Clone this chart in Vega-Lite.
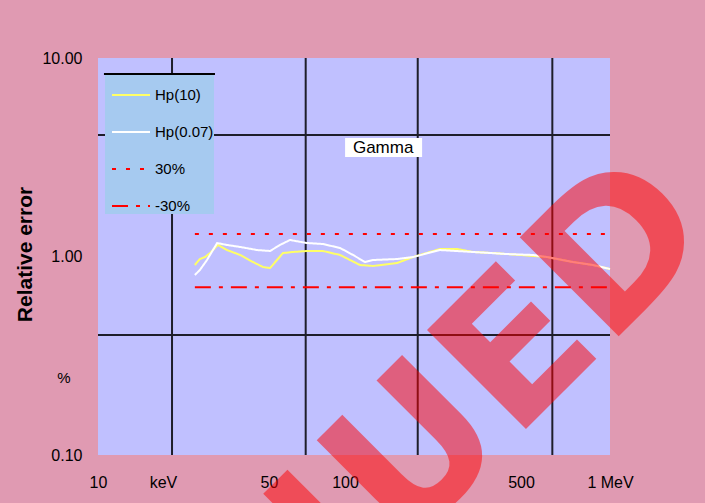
{
  "$schema": "https://vega.github.io/schema/vega-lite/v6.json",
  "width": 512,
  "height": 397,
  "autosize": {"type": "none"},
  "padding": {"left": 98, "top": 58, "right": 95, "bottom": 48},
  "background": "#e09ab2",
  "config": {
    "view": {"fill": "#c0c0ff", "stroke": null},
    "font": "Liberation Sans",
    "axisX": {"labelFontSize": 16, "labelPadding": 19, "labelColor": "#000", "ticks": false, "domain": false, "grid": false, "labelFlush": false, "labelOverlap": false, "labelBound": false},
    "axisY": {"labelFontSize": 16, "labelPadding": 16, "labelColor": "#000", "ticks": false, "domain": false, "grid": false, "titleFontSize": 21, "titleFontWeight": "bold", "titleColor": "#000", "titleX": -67, "titleY": 196, "titleAngle": -90, "titleBaseline": "alphabetic", "titleAlign": "center"}
  },
  "datasets": {
    "curves": [
      {"series": "Hp(10)", "energy": 23.9, "ratio": 0.906},
      {"series": "Hp(10)", "energy": 25.0, "ratio": 0.971},
      {"series": "Hp(10)", "energy": 26.2, "ratio": 0.994},
      {"series": "Hp(10)", "energy": 27.4, "ratio": 1.041},
      {"series": "Hp(10)", "energy": 29.4, "ratio": 1.143},
      {"series": "Hp(10)", "energy": 31.9, "ratio": 1.078},
      {"series": "Hp(10)", "energy": 35.9, "ratio": 1.018},
      {"series": "Hp(10)", "energy": 40.3, "ratio": 0.938},
      {"series": "Hp(10)", "energy": 44.1, "ratio": 0.885},
      {"series": "Hp(10)", "energy": 47.0, "ratio": 0.875},
      {"series": "Hp(10)", "energy": 52.8, "ratio": 1.041},
      {"series": "Hp(10)", "energy": 57.8, "ratio": 1.054},
      {"series": "Hp(10)", "energy": 65.5, "ratio": 1.066},
      {"series": "Hp(10)", "energy": 75.6, "ratio": 1.066},
      {"series": "Hp(10)", "energy": 88.2, "ratio": 1.018},
      {"series": "Hp(10)", "energy": 96.5, "ratio": 0.960},
      {"series": "Hp(10)", "energy": 105.5, "ratio": 0.906},
      {"series": "Hp(10)", "energy": 118.7, "ratio": 0.896},
      {"series": "Hp(10)", "energy": 147.2, "ratio": 0.927},
      {"series": "Hp(10)", "energy": 170.1, "ratio": 0.994},
      {"series": "Hp(10)", "energy": 216.7, "ratio": 1.091},
      {"series": "Hp(10)", "energy": 252.6, "ratio": 1.091},
      {"series": "Hp(10)", "energy": 291.6, "ratio": 1.054},
      {"series": "Hp(10)", "energy": 349.1, "ratio": 1.041},
      {"series": "Hp(10)", "energy": 445, "ratio": 1.018},
      {"series": "Hp(10)", "energy": 567, "ratio": 0.994},
      {"series": "Hp(10)", "energy": 717, "ratio": 0.938},
      {"series": "Hp(10)", "energy": 858, "ratio": 0.906},
      {"series": "Hp(10)", "energy": 1000, "ratio": 0.865},
      {"series": "Hp(0.07)", "energy": 23.9, "ratio": 0.807},
      {"series": "Hp(0.07)", "energy": 25.0, "ratio": 0.855},
      {"series": "Hp(0.07)", "energy": 26.65, "ratio": 0.960},
      {"series": "Hp(0.07)", "energy": 29.2, "ratio": 1.169},
      {"series": "Hp(0.07)", "energy": 31.9, "ratio": 1.143},
      {"series": "Hp(0.07)", "energy": 35.9, "ratio": 1.117},
      {"series": "Hp(0.07)", "energy": 41.8, "ratio": 1.078},
      {"series": "Hp(0.07)", "energy": 47.0, "ratio": 1.066},
      {"series": "Hp(0.07)", "energy": 51.4, "ratio": 1.143},
      {"series": "Hp(0.07)", "energy": 56.2, "ratio": 1.211},
      {"series": "Hp(0.07)", "energy": 65.5, "ratio": 1.169},
      {"series": "Hp(0.07)", "energy": 75.6, "ratio": 1.156},
      {"series": "Hp(0.07)", "energy": 88.2, "ratio": 1.104},
      {"series": "Hp(0.07)", "energy": 99.1, "ratio": 1.018},
      {"series": "Hp(0.07)", "energy": 110.4, "ratio": 0.938},
      {"series": "Hp(0.07)", "energy": 118.7, "ratio": 0.960},
      {"series": "Hp(0.07)", "energy": 147.2, "ratio": 0.971},
      {"series": "Hp(0.07)", "energy": 170.1, "ratio": 0.994},
      {"series": "Hp(0.07)", "energy": 216.7, "ratio": 1.078},
      {"series": "Hp(0.07)", "energy": 291.6, "ratio": 1.054},
      {"series": "Hp(0.07)", "energy": 396, "ratio": 1.029},
      {"series": "Hp(0.07)", "energy": 500, "ratio": 1.018},
      {"series": "Hp(0.07)", "energy": 567, "ratio": 0.994},
      {"series": "Hp(0.07)", "energy": 717, "ratio": 0.938},
      {"series": "Hp(0.07)", "energy": 858, "ratio": 0.906},
      {"series": "Hp(0.07)", "energy": 1000, "ratio": 0.865},
      {"series": "30%", "energy": 23.9, "ratio": 1.3},
      {"series": "30%", "energy": 1000, "ratio": 1.3},
      {"series": "-30%", "energy": 23.9, "ratio": 0.7},
      {"series": "-30%", "energy": 1000, "ratio": 0.7}
    ],
    "gridx": [{"energy": 19.46}, {"energy": 64.76}, {"energy": 177.4}, {"energy": 595.3}],
    "gridy": [{"ratio": 4.094}, {"ratio": 0.4022}],
    "one": [{}]
  },
  "layer": [
    {
      "data": {"name": "gridx"},
      "mark": {"type": "rule", "color": "#1e1e2a", "strokeWidth": 2},
      "encoding": {
        "x": {
          "field": "energy", "type": "quantitative", "title": null,
          "scale": {"type": "log", "domain": [10, 1000], "nice": false},
          "axis": {"values": [10, 17.94, 46.56, 92.2, 449, 1000], "labelExpr": "datum.value < 12 ? '10' : datum.value < 30 ? 'keV' : datum.value < 60 ? '50' : datum.value < 200 ? '100' : datum.value < 600 ? '500' : '1 MeV'"}
        }
      }
    },
    {
      "data": {"name": "gridy"},
      "mark": {"type": "rule", "color": "#1e1e2a", "strokeWidth": 2},
      "encoding": {
        "y": {
          "field": "ratio", "type": "quantitative", "title": "Relative error",
          "scale": {"type": "log", "domain": [0.1, 10], "nice": false},
          "axis": {"values": [0.1, 1, 10], "format": ".2f"}
        }
      }
    },
    {
      "data": {"name": "curves"},
      "mark": {"type": "line", "strokeWidth": 2},
      "encoding": {
        "x": {"field": "energy", "type": "quantitative", "title": null, "scale": {"type": "log", "domain": [10, 1000], "nice": false},
              "axis": {"values": [10, 17.94, 46.56, 92.2, 449, 1000], "labelExpr": "datum.value < 12 ? '10' : datum.value < 30 ? 'keV' : datum.value < 60 ? '50' : datum.value < 200 ? '100' : datum.value < 600 ? '500' : '1 MeV'"}},
        "y": {"field": "ratio", "type": "quantitative", "title": "Relative error", "scale": {"type": "log", "domain": [0.1, 10], "nice": false},
              "axis": {"values": [0.1, 1, 10], "format": ".2f"}},
        "color": {
          "field": "series", "type": "nominal",
          "scale": {"domain": ["Hp(10)", "Hp(0.07)", "30%", "-30%"], "range": ["#ffff66", "#ffffff", "#ff0000", "#ff0000"]},
          "legend": {"title": null, "orient": "none", "legendX": 7, "legendY": 17, "fillColor": "#a6caf0", "padding": 0,
                     "symbolType": "stroke", "symbolSize": 1444, "symbolStrokeWidth": 2, "symbolOffset": 6,
                     "labelOffset": 4, "labelFontSize": 15, "labelColor": "#000", "rowPadding": 9, "labelLimit": 200}
        },
        "strokeDash": {
          "field": "series", "type": "nominal",
          "scale": {"domain": ["Hp(10)", "Hp(0.07)", "30%", "-30%"], "range": [[1, 0], [1, 0], [4, 10], [16, 8, 4, 8]]},
          "legend": {"title": null, "orient": "none", "legendX": 7, "legendY": 17, "fillColor": "#a6caf0", "padding": 0,
                     "symbolType": "stroke", "symbolSize": 1444, "symbolStrokeWidth": 2, "symbolOffset": 6,
                     "labelOffset": 4, "labelFontSize": 15, "labelColor": "#000", "rowPadding": 9, "labelLimit": 200}
        }
      }
    },
    {
      "data": {"name": "one"},
      "mark": {"type": "rule", "color": "#000", "strokeWidth": 2},
      "encoding": {
        "x": {"datum": 10.55, "type": "quantitative", "title": null, "scale": {"type": "log", "domain": [10, 1000], "nice": false},
              "axis": {"values": [10, 17.94, 46.56, 92.2, 449, 1000], "labelExpr": "datum.value < 12 ? '10' : datum.value < 30 ? 'keV' : datum.value < 60 ? '50' : datum.value < 200 ? '100' : datum.value < 600 ? '500' : '1 MeV'"}},
        "x2": {"datum": 28.64},
        "y": {"datum": 8.31, "type": "quantitative", "title": "Relative error", "scale": {"type": "log", "domain": [0.1, 10], "nice": false},
              "axis": {"values": [0.1, 1, 10], "format": ".2f"}}
      }
    },
    {
      "data": {"name": "one"},
      "mark": {"type": "rect", "fill": "#ffffff"},
      "encoding": {
        "x": {"datum": 92.3, "type": "quantitative", "title": null, "scale": {"type": "log", "domain": [10, 1000], "nice": false},
              "axis": {"values": [10, 17.94, 46.56, 92.2, 449, 1000], "labelExpr": "datum.value < 12 ? '10' : datum.value < 30 ? 'keV' : datum.value < 60 ? '50' : datum.value < 200 ? '100' : datum.value < 600 ? '500' : '1 MeV'"}},
        "x2": {"datum": 184.5},
        "y": {"datum": 3.95, "type": "quantitative", "title": "Relative error", "scale": {"type": "log", "domain": [0.1, 10], "nice": false},
              "axis": {"values": [0.1, 1, 10], "format": ".2f"}},
        "y2": {"datum": 3.17}
      }
    },
    {
      "data": {"name": "one"},
      "mark": {"type": "text", "text": "Gamma", "fontSize": 17, "color": "#000", "align": "center", "baseline": "middle"},
      "encoding": {
        "x": {"datum": 130, "type": "quantitative", "title": null, "scale": {"type": "log", "domain": [10, 1000], "nice": false},
              "axis": {"values": [10, 17.94, 46.56, 92.2, 449, 1000], "labelExpr": "datum.value < 12 ? '10' : datum.value < 30 ? 'keV' : datum.value < 60 ? '50' : datum.value < 200 ? '100' : datum.value < 600 ? '500' : '1 MeV'"}},
        "y": {"datum": 3.52, "type": "quantitative", "title": "Relative error", "scale": {"type": "log", "domain": [0.1, 10], "nice": false},
              "axis": {"values": [0.1, 1, 10], "format": ".2f"}}
      }
    },
    {
      "data": {"name": "one"},
      "mark": {"type": "text", "text": "%", "fontSize": 15, "color": "#000", "align": "center", "baseline": "middle"},
      "encoding": {
        "x": {"datum": 7.36, "type": "quantitative", "title": null, "scale": {"type": "log", "domain": [10, 1000], "nice": false},
              "axis": {"values": [10, 17.94, 46.56, 92.2, 449, 1000], "labelExpr": "datum.value < 12 ? '10' : datum.value < 30 ? 'keV' : datum.value < 60 ? '50' : datum.value < 200 ? '100' : datum.value < 600 ? '500' : '1 MeV'"}},
        "y": {"datum": 0.244, "type": "quantitative", "title": "Relative error", "scale": {"type": "log", "domain": [0.1, 10], "nice": false},
              "axis": {"values": [0.1, 1, 10], "format": ".2f"}}
      }
    },
    {
      "data": {"name": "one"},
      "mark": {"type": "text", "text": "UED", "font": "DejaVu Sans", "fontWeight": "bold", "fontSize": 192, "angle": -45,
               "color": "#ff0000", "opacity": 0.5, "align": "center", "baseline": "alphabetic"},
      "encoding": {
        "x": {"datum": 643.6, "type": "quantitative", "title": null, "scale": {"type": "log", "domain": [10, 1000], "nice": false},
              "axis": {"values": [10, 17.94, 46.56, 92.2, 449, 1000], "labelExpr": "datum.value < 12 ? '10' : datum.value < 30 ? 'keV' : datum.value < 60 ? '50' : datum.value < 200 ? '100' : datum.value < 600 ? '500' : '1 MeV'"}},
        "y": {"datum": 0.2029, "type": "quantitative", "title": "Relative error", "scale": {"type": "log", "domain": [0.1, 10], "nice": false},
              "axis": {"values": [0.1, 1, 10], "format": ".2f"}}
      }
    },
    {
      "data": {"name": "one"},
      "mark": {"type": "text", "text": "DISCONTIN", "font": "DejaVu Sans", "fontWeight": "bold", "fontSize": 192, "angle": -45,
               "color": "#ff0000", "opacity": 0.5, "align": "right", "baseline": "alphabetic"},
      "encoding": {
        "x": {"datum": 149.6, "type": "quantitative", "title": null, "scale": {"type": "log", "domain": [10, 1000], "nice": false},
              "axis": {"values": [10, 17.94, 46.56, 92.2, 449, 1000], "labelExpr": "datum.value < 12 ? '10' : datum.value < 30 ? 'keV' : datum.value < 60 ? '50' : datum.value < 200 ? '100' : datum.value < 600 ? '500' : '1 MeV'"}},
        "y": {"datum": 0.0309, "type": "quantitative", "title": "Relative error", "scale": {"type": "log", "domain": [0.1, 10], "nice": false},
              "axis": {"values": [0.1, 1, 10], "format": ".2f"}}
      }
    }
  ]
}
